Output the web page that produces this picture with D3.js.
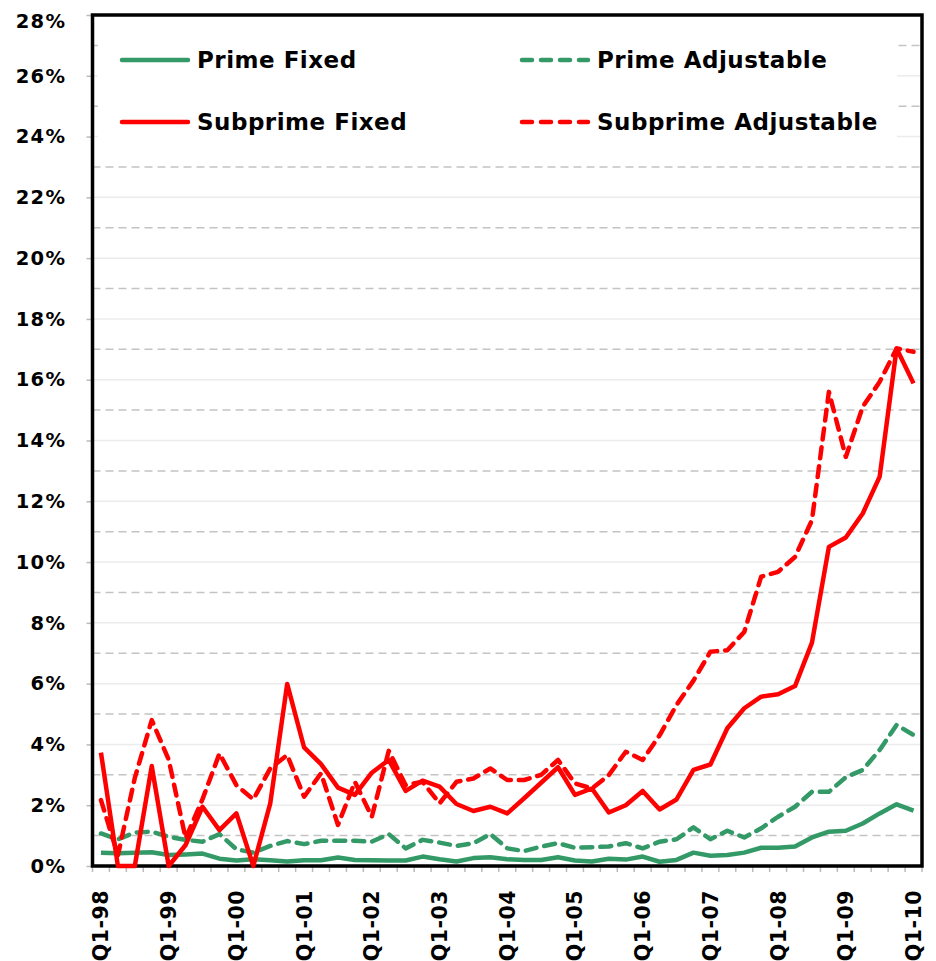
<!DOCTYPE html>
<html>
<head>
<meta charset="utf-8">
<script src="https://cdn.jsdelivr.net/npm/d3@7/dist/d3.min.js"></script>
<style>
  html, body { margin: 0; padding: 0; background: #fff; }
  svg { display: block; }
  text { font-family: "DejaVu Sans", Verdana, sans-serif; font-weight: bold; fill: #000; }
</style>
</head>
<body>
<svg id="chart" width="936" height="961"></svg>
<script>
const quarters = [
  "Q1-98","Q2-98","Q3-98","Q4-98","Q1-99","Q2-99","Q3-99","Q4-99",
  "Q1-00","Q2-00","Q3-00","Q4-00","Q1-01","Q2-01","Q3-01","Q4-01",
  "Q1-02","Q2-02","Q3-02","Q4-02","Q1-03","Q2-03","Q3-03","Q4-03",
  "Q1-04","Q2-04","Q3-04","Q4-04","Q1-05","Q2-05","Q3-05","Q4-05",
  "Q1-06","Q2-06","Q3-06","Q4-06","Q1-07","Q2-07","Q3-07","Q4-07",
  "Q1-08","Q2-08","Q3-08","Q4-08","Q1-09","Q2-09","Q3-09","Q4-09",
  "Q1-10"
];
const tickLabels = ["Q1-98","Q1-99","Q1-00","Q1-01","Q1-02","Q1-03","Q1-04","Q1-05","Q1-06","Q1-07","Q1-08","Q1-09","Q1-10"];
const yTicks = [0,2,4,6,8,10,12,14,16,18,20,22,24,26,28];
const yMinor = [1,3,5,7,9,11,13,15,17,19,21,23,25,27];

const primeFixed = [0.44,0.42,0.44,0.45,0.36,0.38,0.41,0.24,0.18,0.22,0.19,0.15,0.19,0.19,0.28,0.2,0.19,0.18,0.18,0.31,0.22,0.15,0.26,0.29,0.22,0.2,0.2,0.29,0.18,0.15,0.24,0.21,0.31,0.14,0.2,0.44,0.34,0.36,0.44,0.6,0.6,0.64,0.94,1.13,1.16,1.4,1.73,2.03,1.82];
const primeAdjustable = [1.07,0.88,1.1,1.13,0.96,0.86,0.8,1.05,0.55,0.44,0.66,0.82,0.72,0.83,0.83,0.83,0.8,1.05,0.58,0.86,0.77,0.66,0.75,1.05,0.58,0.49,0.64,0.75,0.6,0.62,0.64,0.75,0.58,0.8,0.88,1.27,0.88,1.16,0.94,1.24,1.62,1.95,2.44,2.44,2.92,3.16,3.82,4.64,4.31];
const subprimeFixed = [3.73,0,0,3.29,0,0.69,1.95,1.18,1.73,0,2.06,5.99,3.9,3.35,2.58,2.34,3.07,3.49,2.47,2.81,2.61,2.04,1.81,1.95,1.73,2.23,2.74,3.25,2.34,2.55,1.76,2.0,2.47,1.86,2.19,3.16,3.34,4.53,5.19,5.57,5.65,5.92,7.35,10.5,10.81,11.6,12.81,17.03,15.88];
const subprimeAdjustable = [2.17,0.35,2.9,4.8,3.5,0.91,2.2,3.7,2.66,2.19,3.21,3.65,2.28,3.05,1.35,2.77,1.62,3.79,2.66,2.77,2.06,2.77,2.88,3.21,2.83,2.83,3.0,3.49,2.72,2.55,2.99,3.76,3.49,4.3,5.3,6.1,7.05,7.1,7.7,9.52,9.68,10.17,11.38,15.6,13.46,15.11,15.93,17.03,16.92];

const seriesNames = ["Prime Fixed","Prime Adjustable","Subprime Fixed","Subprime Adjustable"];
const seriesColors = ["#339966","#339966","#ff0000","#ff0000"];
const seriesDashed = [false,true,false,true];
const seriesValues = [primeFixed, primeAdjustable, subprimeFixed, subprimeAdjustable];

const plotL = 92.5, plotR = 922, plotT = 15, plotB = 866;
const svg = d3.select("#chart");

const x = d3.scaleBand().domain(quarters).range([plotL, plotR]).paddingInner(0).paddingOuter(0);
const xc = q => x(q) + x.bandwidth() / 2;
const y = d3.scaleLinear().domain([0, 28]).range([plotB, plotT]);

// gridlines
svg.append("g").selectAll("line").data(yTicks.filter(d => d > 0 && d < 28)).join("line")
  .attr("x1", plotL).attr("x2", plotR).attr("y1", d => y(d)).attr("y2", d => y(d))
  .attr("stroke", "#ececec").attr("stroke-width", 1.5);
svg.append("g").selectAll("line").data(yMinor).join("line")
  .attr("x1", plotL).attr("x2", plotR).attr("y1", d => y(d)).attr("y2", d => y(d))
  .attr("stroke", "#c4c4c4").attr("stroke-width", 1.5).attr("stroke-dasharray", "8,5");

// y axis
const yAxis = d3.axisLeft(y).tickValues(yTicks).tickSize(6).tickPadding(20).tickFormat(d => d + "%");
const gy = svg.append("g").attr("transform", `translate(${plotL},0)`).call(yAxis);
gy.select(".domain").remove();
gy.selectAll(".tick line").attr("stroke", "#bbbbbb").attr("stroke-width", 1.5);
gy.selectAll(".tick text").attr("font-size", 19.5).attr("letter-spacing", 1.4)
  .attr("font-family", "DejaVu Sans, sans-serif").attr("font-weight", "bold").attr("fill", "#000");
gy.selectAll(".tick").filter(d => d === 28).select("text").attr("dy", "0.62em");

// x axis ticks at band boundaries
const xBounds = quarters.map(q => x(q)).concat([plotR]);
svg.append("g").selectAll("line").data(xBounds).join("line")
  .attr("x1", d => d).attr("x2", d => d).attr("y1", plotB).attr("y2", plotB + 6)
  .attr("stroke", "#bbbbbb").attr("stroke-width", 1.5);

// x labels
svg.append("g").selectAll("text").data(tickLabels).join("text")
  .attr("transform", d => `translate(${xc(d) + 7.5},${plotB + 24}) rotate(-90)`)
  .attr("text-anchor", "end")
  .attr("font-size", 20.5)
  .attr("letter-spacing", 0.5)
  .text(d => d);

// legend background
svg.append("rect").attr("x", 98).attr("y", 22).attr("width", 799).attr("height", 130).attr("fill", "#fff");

// frame
svg.append("rect").attr("x", plotL).attr("y", plotT).attr("width", plotR - plotL).attr("height", plotB - plotT)
  .attr("fill", "none").attr("stroke", "#000").attr("stroke-width", 3.5);

// lines
const line = d3.line().x((d, i) => xc(quarters[i])).y(d => y(d));
const order = [0, 1, 3, 2];
order.forEach(k => {
  svg.append("path").datum(seriesValues[k])
    .attr("d", line)
    .attr("fill", "none")
    .attr("stroke", seriesColors[k])
    .attr("stroke-width", 4.5)
    .attr("stroke-linejoin", "round")
    .attr("stroke-linecap", seriesDashed[k] ? "round" : "butt")
    .attr("stroke-dasharray", seriesDashed[k] ? "11,8" : null);
});

// legend
const legPos = [[120, 60], [520, 60], [120, 122], [520, 122]];
seriesNames.forEach((name, k) => {
  const [lx, ly] = legPos[k];
  svg.append("line").attr("x1", lx + 2).attr("x2", lx + 68).attr("y1", ly).attr("y2", ly)
    .attr("stroke", seriesColors[k]).attr("stroke-width", 4.5).attr("stroke-linecap", "round")
    .attr("stroke-dasharray", seriesDashed[k] ? "10,9" : null);
  svg.append("text").attr("x", lx + 77).attr("y", ly).attr("dy", "0.36em")
    .attr("font-size", 23).attr("letter-spacing", 0.5).text(name);
});
</script>
</body>
</html>
